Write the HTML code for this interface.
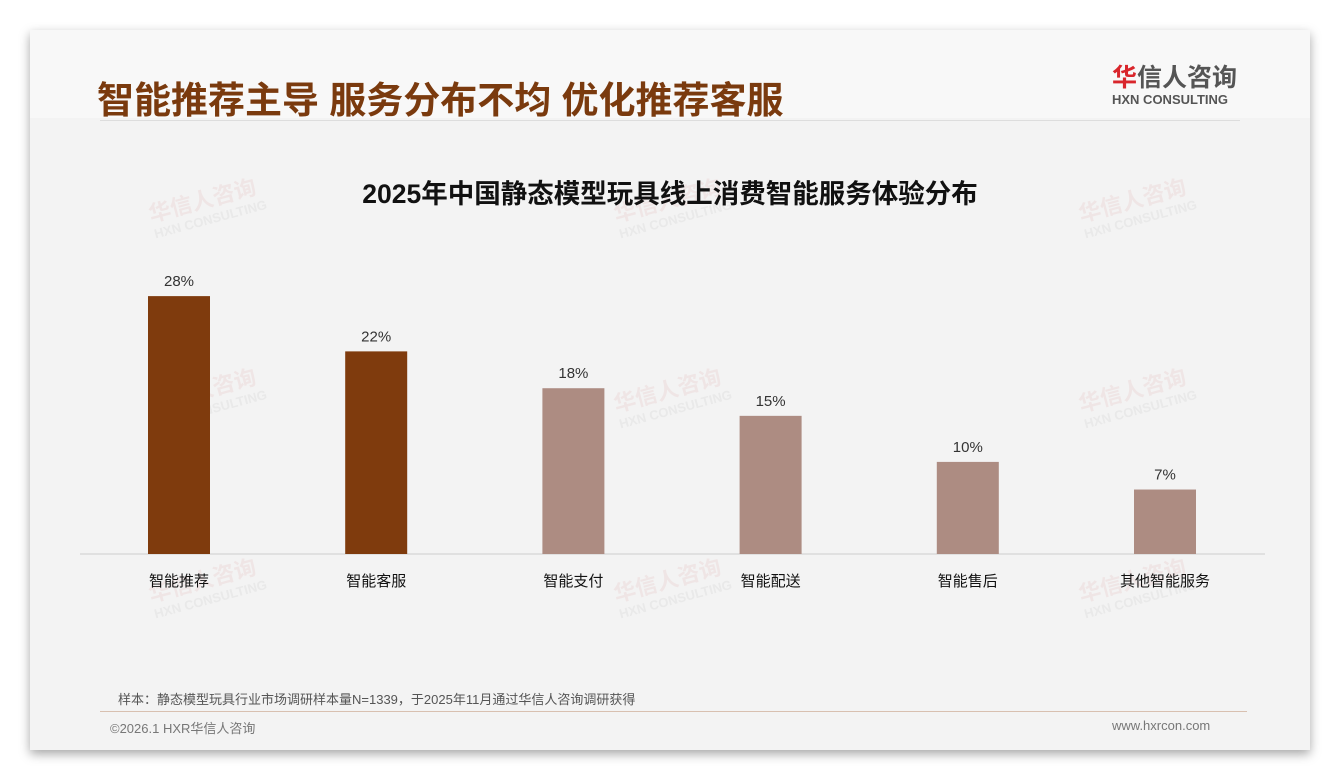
<!DOCTYPE html>
<html><head><meta charset="utf-8"><style>
body{margin:0;width:1340px;height:780px;background:#fff;position:relative;overflow:hidden;font-family:"Liberation Sans","Noto Sans CJK SC",sans-serif}
#card{position:absolute;left:30px;top:30px;width:1280px;height:720px;background:#f3f3f3;box-shadow:0 4px 10px rgba(0,0,0,.35)}
#hdr{position:absolute;left:0;top:0;width:1280px;height:88px;background:#f8f8f8}
.t{position:absolute;white-space:nowrap}
.wm{position:absolute;color:rgba(200,60,60,.07);font-weight:bold;transform:rotate(-15deg);font-size:22px;line-height:20px}
.wm small{display:block;font-size:13px;color:rgba(120,120,120,.08)}
</style></head><body>
<div id="card">
<div id="hdr"></div>
<div class="t" style="left:67px;top:40px;font-size:37px;font-weight:bold;color:#7a3a0e">智能推荐主导 服务分布不均 优化推荐客服</div>
<div class="t" style="left:1082px;top:34px;font-size:25px;font-weight:bold;color:#555;line-height:28px"><span style="color:#d9262c">华</span>信人咨询<div style="font-size:13px;line-height:16px;color:#555">HXN CONSULTING</div></div>
<div class="t" style="left:70px;top:90px;width:1140px;height:1px;background:#ddd"></div>
<div class="wm" style="left:120px;top:160px">华信人咨询<small>HXN CONSULTING</small></div>
<div class="wm" style="left:585px;top:160px">华信人咨询<small>HXN CONSULTING</small></div>
<div class="wm" style="left:1050px;top:160px">华信人咨询<small>HXN CONSULTING</small></div>
<div class="wm" style="left:120px;top:350px">华信人咨询<small>HXN CONSULTING</small></div>
<div class="wm" style="left:585px;top:350px">华信人咨询<small>HXN CONSULTING</small></div>
<div class="wm" style="left:1050px;top:350px">华信人咨询<small>HXN CONSULTING</small></div>
<div class="wm" style="left:120px;top:540px">华信人咨询<small>HXN CONSULTING</small></div>
<div class="wm" style="left:585px;top:540px">华信人咨询<small>HXN CONSULTING</small></div>
<div class="wm" style="left:1050px;top:540px">华信人咨询<small>HXN CONSULTING</small></div>
<div class="t" style="left:88px;top:659px;font-size:13px;color:#555">样本：静态模型玩具行业市场调研样本量N=1339，于2025年11月通过华信人咨询调研获得</div>
<div class="t" style="left:70px;top:681px;width:1147px;height:1px;background:#d8c0b0"></div>
<div class="t" style="left:80px;top:688px;font-size:13px;color:#777">©2026.1 HXR华信人咨询</div>
<div class="t" style="left:1082px;top:688px;font-size:13px;color:#777">www.hxrcon.com</div>
</div>
<svg id="chart" width="1340" height="780" style="position:absolute;left:0;top:0">
<text x="670" y="203" text-anchor="middle" font-size="26.5" font-weight="bold" fill="#111">2025年中国静态模型玩具线上消费智能服务体验分布</text>
<line x1="80" y1="554" x2="1265" y2="554" stroke="#ccc"/>
<g id="bars"></g>
</svg>
<script>
const categories=["智能推荐","智能客服","智能支付","智能配送","智能售后","其他智能服务"];
const values=[28,22,18,15,10,7];
const highlight=[true,true,false,false,false,false];
const g=document.getElementById('bars');
const ns='http://www.w3.org/2000/svg';
const x=i=>179+i*197.2;
const y=v=>554-v*9.21;
categories.forEach((c,i)=>{
 const r=document.createElementNS(ns,'rect');
 
 
 r.setAttribute('x',x(i)-31);r.setAttribute('width',62);
 r.setAttribute('y',y(values[i]));r.setAttribute('height',554-y(values[i]));
 r.setAttribute('fill',highlight[i]?'#7f3b0d':'#ad8c82');
 g.appendChild(r);
 const v=document.createElementNS(ns,'text');
 
 
 v.setAttribute('x',x(i));v.setAttribute('y',y(values[i])-10);
 v.setAttribute('text-anchor','middle');v.setAttribute('font-size','15');v.setAttribute('fill','#333');
 v.textContent=values[i]+'%';g.appendChild(v);
 const l=document.createElementNS(ns,'text');
 
 
 l.setAttribute('x',x(i));l.setAttribute('y',586);
 l.setAttribute('text-anchor','middle');l.setAttribute('font-size','15');l.setAttribute('fill','#111');
 l.textContent=c;g.appendChild(l);
});
</script>
</body></html>
